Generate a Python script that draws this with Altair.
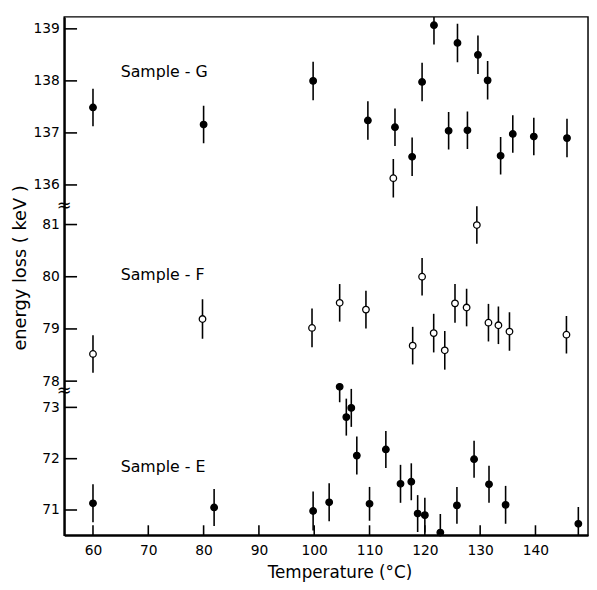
import altair as alt
import pandas as pd

# ---- data ----
G_T = [60, 80.0, 99.8, 109.7, 114.6, 114.3, 117.7, 119.5, 121.65, 124.3, 125.9, 127.7, 129.6, 131.35, 133.7, 135.9, 139.7, 145.7]
G_V = [137.49, 137.16, 138.0, 137.24, 137.11, 136.13, 136.54, 137.98, 139.07, 137.04, 138.73, 137.05, 138.50, 138.01, 136.56, 136.98, 136.93, 136.90]
G_E = [0.36, 0.36, 0.37, 0.37, 0.36, 0.37, 0.37, 0.37, 0.37, 0.36, 0.37, 0.36, 0.37, 0.37, 0.36, 0.36, 0.36, 0.37]
G_S = ["filled"] * 5 + ["open"] + ["filled"] * 12

F_T = [60, 79.8, 99.6, 104.6, 109.35, 117.8, 119.5, 121.6, 123.6, 125.45, 127.55, 129.4, 131.5, 133.3, 135.3, 145.6]
F_V = [78.52, 79.19, 79.02, 79.50, 79.37, 78.68, 80.0, 78.92, 78.59, 79.49, 79.41, 80.99, 79.12, 79.07, 78.95, 78.89]
F_E = [0.36, 0.38, 0.37, 0.36, 0.36, 0.36, 0.36, 0.37, 0.37, 0.37, 0.36, 0.36, 0.36, 0.36, 0.37, 0.36]
F_S = ["open"] * 16

E_T = [60, 81.9, 99.8, 102.7, 104.6, 105.8, 106.7, 107.7, 110.0, 112.95, 115.6, 117.55, 118.7, 120.0, 122.8, 125.8, 128.9, 131.6, 134.6, 147.75]
E_V = [71.13, 71.05, 70.98, 71.15, 73.40, 72.81, 72.99, 72.06, 71.12, 72.18, 71.51, 71.55, 70.93, 70.90, 70.56, 71.09, 71.99, 71.50, 71.10, 70.73]
E_E = [0.37, 0.36, 0.38, 0.37, 0.30, 0.36, 0.37, 0.37, 0.33, 0.36, 0.37, 0.36, 0.36, 0.34, 0.36, 0.36, 0.36, 0.36, 0.37, 0.33]
E_S = ["filled"] * 20

X_TICKS = [60, 70, 80, 90, 100, 110, 120, 130, 140]
Y_TICKS = [71, 72, 73, 78, 79, 80, 81, 136, 137, 138, 139]
LABELS = ["Sample - G", "Sample - F", "Sample - E"]
LABEL_Y = [138.17, 80.03, 71.83]
LABEL_X = [65.0, 65.0, 65.0]
BREAKS = [100.0, 73.32]

# broken-axis segments (value domain) and their pixel positions
Y_DOMAIN = [70.51, 73.43, 77.92, 81.35, 135.59, 139.23]
W, H = 531, 525.4
Y_RANGE = [H, 373.5, 373.5, 192.0, 192.0, 0]

pts = pd.DataFrame({
    "T": G_T + F_T + E_T,
    "V": G_V + F_V + E_V,
    "err": G_E + F_E + E_E,
    "style": G_S + F_S + E_S,
})
lab = pd.DataFrame({"T": LABEL_X, "V": LABEL_Y, "text": LABELS})
xt = pd.DataFrame({"t": X_TICKS})
yt = pd.DataFrame({"v": Y_TICKS})
br = pd.DataFrame({"v": BREAKS})

FONT = "DejaVu Sans"
xscale = alt.Scale(domain=[54.8, 149.5], nice=False, zero=False)
yscale = alt.Scale(domain=Y_DOMAIN, range=Y_RANGE, nice=False, zero=False)

xaxis = alt.Axis(values=X_TICKS, grid=False, ticks=False, tickSize=0, labelPadding=9,
                 labelFontSize=14, labelFont=FONT, labelColor="black",
                 title="Temperature (°C)", titleFont=FONT, titleFontSize=17,
                 titleFontWeight="normal", titleColor="black",
                 titleX=279, titleY=38, titleBaseline="middle",
                 domainColor="black", domainWidth=2.2)
yaxis = alt.Axis(values=Y_TICKS, grid=False, ticks=False, tickSize=0, labelPadding=5,
                 labelFontSize=14, labelFont=FONT, labelColor="black",
                 title="energy loss ( keV )", titleFont=FONT, titleFontSize=18,
                 titleFontWeight="normal", titleColor="black",
                 titleX=-44, titleY=254, titleBaseline="middle", titleAngle=270,
                 domainColor="black", domainWidth=2.2)

base = alt.Chart(pts)

bars = base.mark_rule(color="black", strokeWidth=1.6, clip=True).transform_calculate(
    lo="datum.V - datum.err", hi="datum.V + datum.err"
).encode(
    x=alt.X("T:Q", scale=xscale, axis=xaxis),
    y=alt.Y("lo:Q", scale=yscale, axis=yaxis),
    y2="hi:Q",
)

dots = base.mark_circle(size=44, stroke="black", strokeWidth=1.3, opacity=1).encode(
    x=alt.X("T:Q", scale=xscale),
    y=alt.Y("V:Q", scale=yscale),
    fill=alt.Fill("style:N", scale=alt.Scale(domain=["filled", "open"], range=["black", "white"]), legend=None),
)

labels = alt.Chart(lab).mark_text(align="left", baseline="middle", font=FONT, fontSize=16, color="black").encode(
    x=alt.X("T:Q", scale=xscale),
    y=alt.Y("V:Q", scale=yscale),
    text="text:N",
)

xticks = alt.Chart(xt).mark_rule(color="black", strokeWidth=1.6).encode(
    x=alt.X("t:Q", scale=xscale),
    y=alt.value(H),
    y2=alt.value(H - 10),
)

yticks = alt.Chart(yt).mark_rule(color="black", strokeWidth=1.6).encode(
    y=alt.Y("v:Q", scale=yscale),
    x=alt.value(0),
    x2=alt.value(13),
)

breaks = alt.Chart(br).mark_text(text="≈", font=FONT, fontSize=18, color="black",
                                  align="center", baseline="middle").encode(
    y=alt.Y("v:Q", scale=yscale),
    x=alt.value(0),
)

chart = alt.layer(bars, dots, labels, xticks, yticks, breaks).properties(
    width=W, height=H,
    autosize=alt.AutoSizeParams(type="none"),
    padding={"left": 57, "top": 5, "right": 1, "bottom": 52},
    background="white",
).configure_view(stroke="black", strokeWidth=1.5)

chart.save("out.html", embed_options={"renderer": "svg", "actions": False})
